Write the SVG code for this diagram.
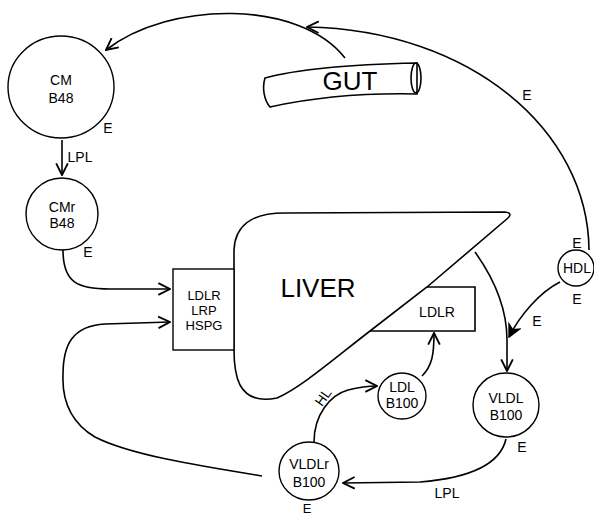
<svg xmlns="http://www.w3.org/2000/svg" width="594" height="516" viewBox="0 0 594 516">
<defs>
<marker id="arr" markerUnits="userSpaceOnUse" markerWidth="14" markerHeight="14" viewBox="0 0 12 12" refX="11" refY="6" orient="auto">
<path d="M1,1 L11,6 L1,11" fill="none" stroke="#000" stroke-width="1.6"/>
</marker>
<marker id="arrf" markerUnits="userSpaceOnUse" markerWidth="14" markerHeight="14" viewBox="0 0 12 12" refX="11" refY="6" orient="auto">
<path d="M1,1 L11,6 L1,11 L4,6 Z" fill="#000" stroke="#000" stroke-width="1.2"/>
</marker>
</defs>
<style>
.shape{fill:none;stroke:#000;stroke-width:1.6}
.node{fill:#fff;stroke:#000;stroke-width:1.4}
.con{fill:none;stroke:#000;stroke-width:1.6;marker-end:url(#arr)}
.t{font-family:"Liberation Sans",Arial,sans-serif;font-size:14px;text-anchor:middle;fill:#000}
.s{font-size:13px}
.big{font-size:26px}
</style>
<rect width="594" height="516" fill="#fff"/>

<g id="liver">
<path class="shape" d="M234,350 L234,250 C235,226 250,213 285,213 L505,212 Q513,213 508,218 L427,287 L370,331 C330,362 300,388 277,398 C258,402 246,396 240,385 C235,375 234,362 234,350 Z" fill="#fff"/>
<text class="t big" x="318" y="297">LIVER</text>
</g>

<g id="ldlr-box">
<path class="shape" d="M427,287 L475,287 L475,331 L370,331"/>
<text class="t" x="437" y="317">LDLR</text>
</g>

<g id="receptors">
<rect class="node" x="173" y="269" width="61" height="81"/>
<text class="t s" x="204" y="300">LDLR</text>
<text class="t s" x="204" y="315">LRP</text>
<text class="t s" x="204" y="330">HSPG</text>
</g>

<g id="gut">
<path class="shape" d="M265,78 C290,71 330,65 417,63 L417,94 C370,93 320,96 270,107 C264,100 262,88 265,78 Z" fill="#fff"/>
<ellipse class="shape" cx="416" cy="78" rx="5" ry="15"/>
<text class="t big" x="350" y="90">GUT</text>
</g>

<g id="cm">
<ellipse class="node" cx="61" cy="87" rx="53" ry="51"/>
<text class="t" x="61" y="85">CM</text>
<text class="t" x="61" y="103">B48</text>
<text class="t" x="108" y="133">E</text>
</g>

<g id="cmr">
<circle class="node" cx="62" cy="214" r="36"/>
<text class="t" x="62" y="212">CMr</text>
<text class="t" x="62" y="228">B48</text>
<text class="t" x="88" y="257">E</text>
</g>

<g id="hdl">
<circle class="node" cx="576" cy="268" r="18"/>
<text class="t" x="577" y="273">HDL</text>
<text class="t" x="577" y="248">E</text>
<text class="t" x="577" y="304">E</text>
</g>

<g id="vldl">
<ellipse class="node" cx="506" cy="405" rx="33" ry="32"/>
<text class="t" x="506" y="403">VLDL</text>
<text class="t" x="506" y="420">B100</text>
<text class="t" x="522" y="452">E</text>
</g>

<g id="ldl">
<ellipse class="node" cx="402" cy="396" rx="24" ry="23"/>
<text class="t" x="402" y="392">LDL</text>
<text class="t" x="402" y="408">B100</text>
</g>

<g id="vldlr">
<ellipse class="node" cx="309" cy="471" rx="30" ry="29"/>
<text class="t" x="309" y="469">VLDLr</text>
<text class="t" x="309" y="487">B100</text>
<text class="t s" x="307" y="513">E</text>
</g>

<g id="connectors">
<path class="con" d="M345,58 C300,0 170,0 106,50"/>
<path class="con" d="M589,250 C588,130 470,30 307,27"/>
<path class="con" d="M62,140 L62,175"/>
<path class="con" d="M63,250 C63,283 78,289 110,289 L170,289"/>
<path class="con" d="M262,476 C200,466 130,455 95,437 C70,422 62,400 63,375 C63,345 72,326 105,324 L170,322"/>
<path class="con" d="M475,252 C495,280 507,310 507,340 L507,371"/>
<path class="shape" d="M560,282 C540,292 520,315 509,337" style="marker-end:url(#arrf)"/>
<path class="con" d="M506,439 C500,465 470,478 420,482 L343,483"/>
<path class="con" d="M314,442 C314,415 330,395 348,390 C360,387 366,386 377,386"/>
<path class="con" d="M422,376 C432,366 434,355 434,333"/>
<text class="t" x="527" y="100">E</text>
<text class="t" x="537" y="326">E</text>
<text class="t" x="447" y="498">LPL</text>
<text class="t" x="80" y="162">LPL</text>
<text class="t" x="323" y="402" transform="rotate(-55 323 397)">HL</text>
</g>
</svg>
